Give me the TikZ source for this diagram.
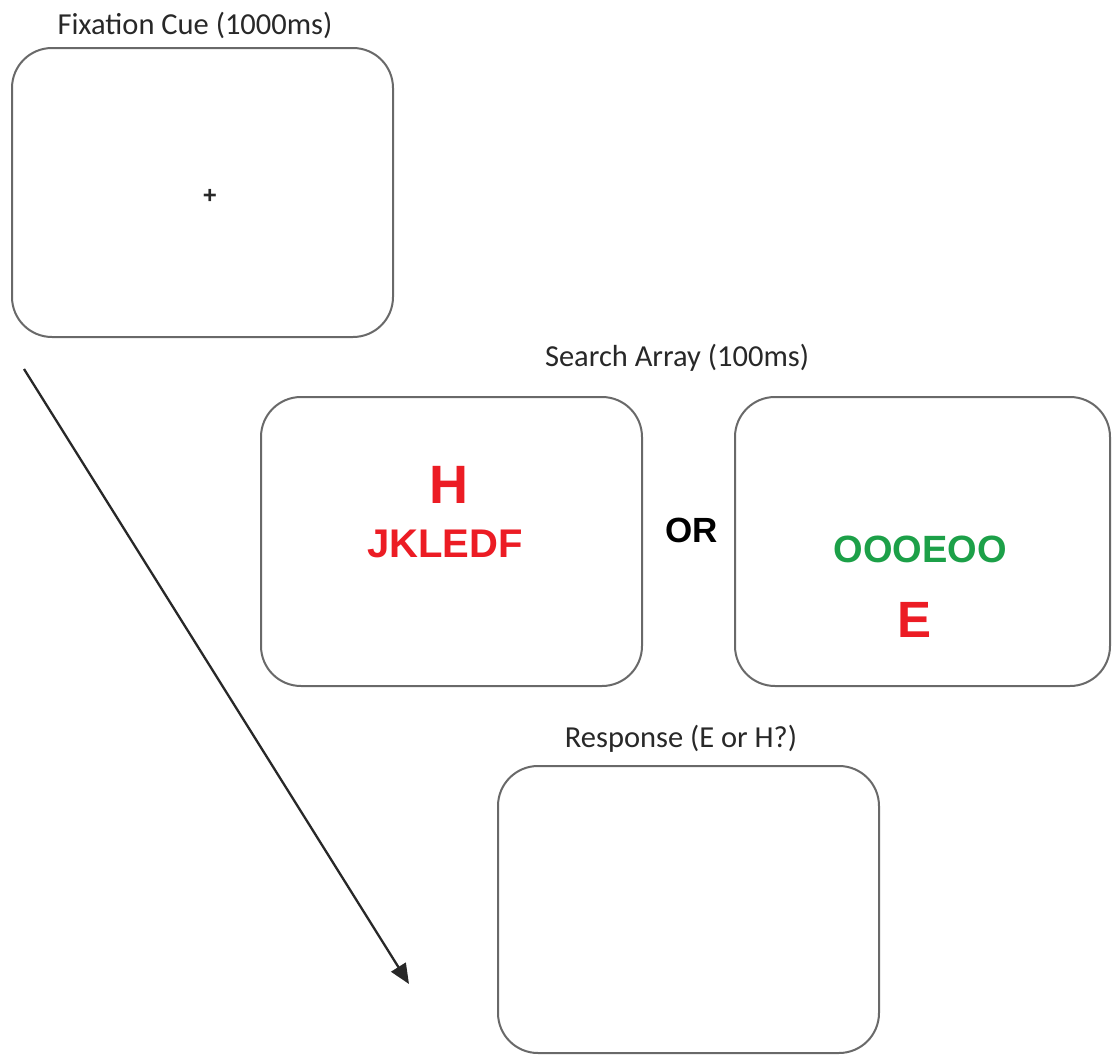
\documentclass[tikz,border=0pt]{standalone}
\usepackage{fontspec}
\setmainfont{Carlito}
\newfontfamily\arialb{Liberation Sans}[BoldFont={* Bold}]
\usetikzlibrary{arrows.meta}
\definecolor{frame}{RGB}{105,105,105}
\definecolor{lbl}{RGB}{40,40,40}
\definecolor{tred}{RGB}{236,28,36}
\definecolor{tgreen}{RGB}{28,160,72}
\begin{document}
\begin{tikzpicture}[x=1pt,y=-1pt,
  screen/.style={draw=frame,line width=2pt,rounded corners=40pt,fill=white},
  caption/.style={anchor=base,inner sep=0pt,text=lbl,font=\fontsize{30.5}{34}\selectfont},
  stim/.style={anchor=base,inner sep=0pt,font=\arialb\bfseries}]
\useasboundingbox (0,0) rectangle (1112,1055);
% screens
\draw[screen] (12,48) rectangle (393,337);
\draw[screen] (261,397) rectangle (642,686);
\draw[screen] (735,397) rectangle (1110,686);
\draw[screen] (498,766) rectangle (879,1053);
% captions
\node[caption] (capfix) at (195,34) {Fixation Cue (1000ms)};
\node[caption] (capsearch) at (677,366) {Search Array (100ms)};
\node[caption] (capresp) at (681,747) {Response (E or H?)};
% fixation cross
\node[inner sep=0pt,font=\arialb\bfseries\fontsize{24}{24}\selectfont,text=lbl] (plus) at (210,196) {+};
% stimuli
\node[stim,text=tred,font=\arialb\bfseries\fontsize{54}{60}\selectfont] (H) at (449,503) {H};
\node[stim,text=tred,font=\arialb\bfseries\fontsize{40}{46}\selectfont] (jk) at (445,557) {JKLEDF};
\node[stim,text=black,font=\arialb\bfseries\fontsize{35}{40}\selectfont] (or) at (692,542) {OR};
\node[stim,text=tgreen,font=\arialb\bfseries\fontsize{38}{44}\selectfont] (oo) at (920,562) {OOOEOO};
\node[stim,text=tred,font=\arialb\bfseries\fontsize{51}{56}\selectfont] (E) at (915,637) {E};
% time arrow
\coordinate (t0) at (24,369);
\coordinate (t1) at (409,984);
\draw[line width=2.3pt,draw=lbl,-{Triangle[length=20pt,width=17pt]}] (t0) -- (t1);
\end{tikzpicture}
\end{document}
